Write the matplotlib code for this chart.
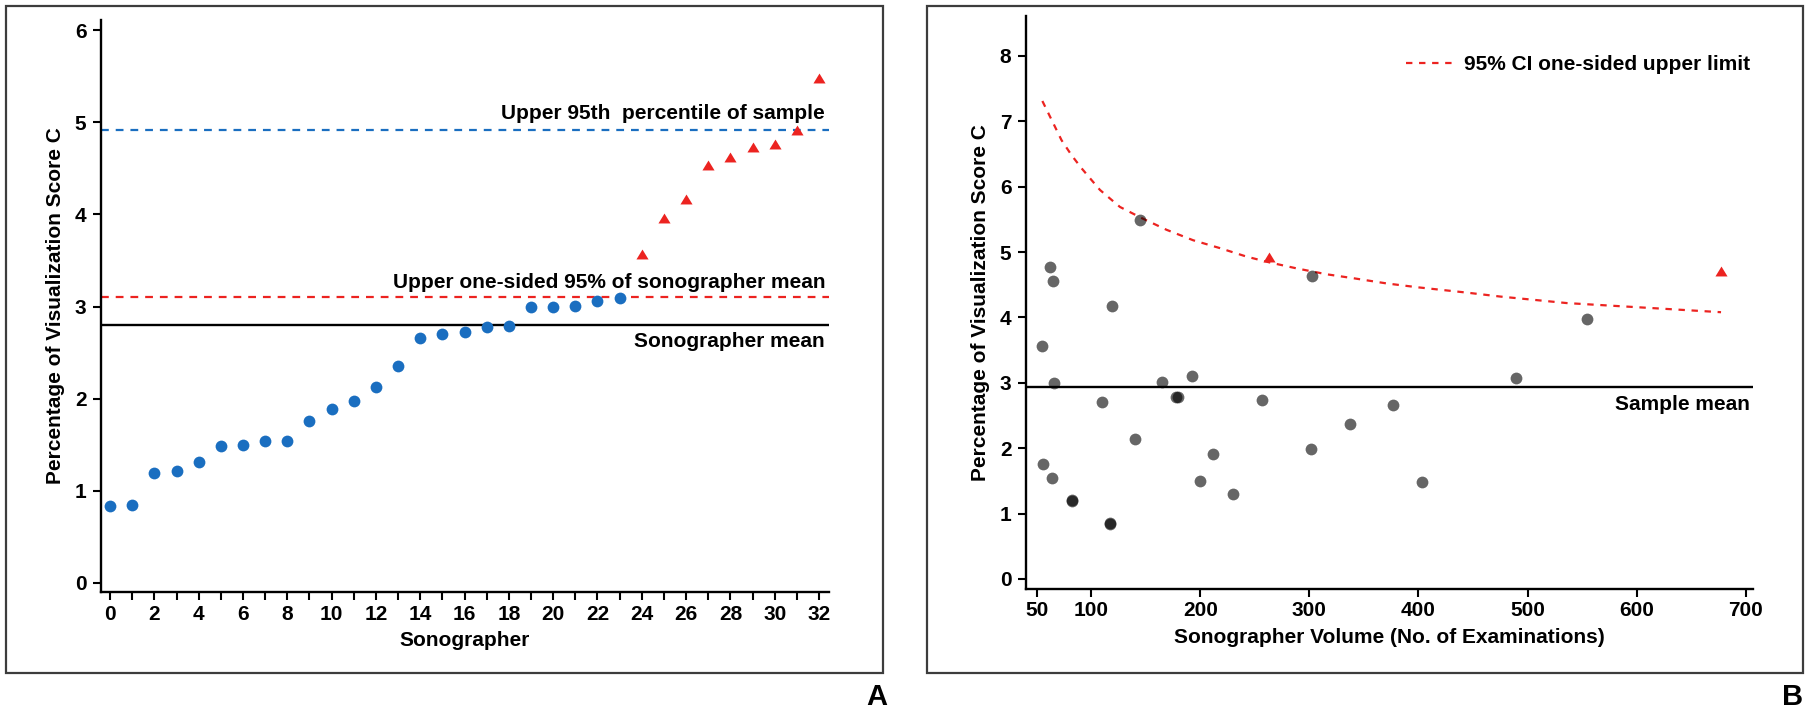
import matplotlib
matplotlib.use("Agg")
import matplotlib.pyplot as plt
from matplotlib.patches import Rectangle
from matplotlib.lines import Line2D
import numpy as np

plt.rcParams['font.family'] = ['Liberation Sans', 'DejaVu Sans']
plt.rcParams['font.weight'] = 'bold'
plt.rcParams['lines.scale_dashes'] = False

# ---------------- Panel A data ----------------
sono_blue_x = list(range(0, 24))
sono_blue_y = [0.84, 0.85, 1.19, 1.21, 1.31, 1.49, 1.50, 1.54, 1.54, 1.76,
               1.89, 1.98, 2.13, 2.36, 2.66, 2.70, 2.72, 2.78, 2.79, 2.99,
               2.99, 3.01, 3.06, 3.09]
sono_red_x = list(range(24, 33))
sono_red_y = [3.57, 3.96, 4.17, 4.54, 4.62, 4.73, 4.76, 4.92, 5.48]
upper_95th_percentile = 4.915
upper_onesided_mean = 3.10
sonographer_mean = 2.80
a_xticks = list(range(0, 33))
a_xticklabels = [str(i) if i % 2 == 0 else '' for i in a_xticks]
a_yticks = [0, 1, 2, 3, 4, 5, 6]

# ---------------- Panel B data ----------------
vol_gray = [55.3, 62.7, 64.8, 66.4, 56.3, 64.3, 82.8, 82.8, 110.3, 118.8,
            117.2, 117.2, 139.9, 145.2, 165.3, 178.0, 179.6, 192.8, 200.2, 211.3,
            229.8, 256.3, 302.3, 301.8, 337.2, 376.4, 403.3, 489.6, 554.6]
pct_gray = [3.57, 4.77, 4.55, 3.00, 1.76, 1.55, 1.19, 1.21, 2.71, 4.18,
            0.84, 0.85, 2.14, 5.49, 3.02, 2.79, 2.78, 3.10, 1.50, 1.91,
            1.30, 2.73, 4.63, 1.99, 2.37, 2.66, 1.49, 3.07, 3.98]
vol_red = [263.2, 677.4]
pct_red = [4.92, 4.71]
ci_vol = [55.3, 65.3, 72.9, 82.1, 91.3, 98.9, 108.1, 117.2, 126.4, 146.3,
          169.2, 193.6, 218.1, 242.5, 263.9, 288.4, 315.9, 340.3, 370.9, 399.9,
          444.2, 474.7, 505.3, 535.8, 566.4, 597.0, 627.5, 677.4]
ci_upper = [7.31, 6.97, 6.71, 6.48, 6.28, 6.13, 5.95, 5.82, 5.69, 5.52,
            5.34, 5.18, 5.06, 4.93, 4.84, 4.75, 4.66, 4.60, 4.52, 4.46,
            4.38, 4.32, 4.27, 4.22, 4.19, 4.16, 4.13, 4.08]
sample_mean = 2.94
b_xticks = [50, 100, 200, 300, 400, 500, 600, 700]
b_yticks = [0, 1, 2, 3, 4, 5, 6, 7, 8]

BLUE = '#1a6ec0'
RED = '#ec2320'
FS = 15
DASH_A = (5.6, 5.0)
DASH_B = (4.6, 4.8)

W, H = 1810, 711
fig = plt.figure(figsize=(W / 100, H / 100), dpi=100)

def fx(px):
    return px / W

def fy(py):
    return 1 - py / H

# panel frames
for (x0, x1) in [(6, 883), (927, 1803)]:
    fig.patches.append(Rectangle((fx(x0), fy(673)), fx(x1 - x0), (673 - 6) / H,
                                 transform=fig.transFigure, fill=False,
                                 edgecolor='#3c3c3c', linewidth=1.6, zorder=0))

tri = [(-1.0, -0.82), (1.0, -0.82), (0.0, 0.82)]

def style_axes(ax):
    for s in ['top', 'right']:
        ax.spines[s].set_visible(False)
    for s in ['left', 'bottom']:
        ax.spines[s].set_linewidth(1.7)
    ax.tick_params(axis='both', direction='out', width=1.5, labelsize=FS)
    ax.tick_params(axis='y', length=5.5, pad=5)
    ax.tick_params(axis='x', length=6.0, pad=3)
    for lab in ax.get_xticklabels() + ax.get_yticklabels():
        lab.set_fontweight('bold')

# ---------------- Panel A ----------------
axA = fig.add_axes([fx(101), fy(592), fx(829 - 101), (592 - 20) / H])
axA.set_xlim(-0.41, 32.45)
axA.set_ylim(-0.098, 6.11)
axA.axhline(upper_95th_percentile, color=BLUE, lw=1.6, dashes=DASH_A, zorder=1)
axA.axhline(upper_onesided_mean, color=RED, lw=1.6, dashes=DASH_A, zorder=1)
axA.axhline(sonographer_mean, color='black', lw=1.7, zorder=1)
axA.scatter(sono_blue_x, sono_blue_y, s=72, color=BLUE, linewidths=0, zorder=3)
axA.scatter(sono_red_x, sono_red_y, s=76, marker=tri, color=RED, linewidths=0, zorder=3)
axA.set_xticks(a_xticks)
axA.set_xticklabels(a_xticklabels)
axA.set_yticks(a_yticks)
style_axes(axA)
axA.text(32.27, 5.04, 'Upper 95th  percentile of sample', ha='right', va='baseline',
         fontsize=FS, fontweight='bold')
axA.text(32.27, 3.20, 'Upper one-sided 95% of sonographer mean', ha='right', va='baseline',
         fontsize=FS, fontweight='bold')
axA.text(32.27, 2.565, 'Sonographer mean', ha='right', va='baseline',
         fontsize=FS, fontweight='bold')
axA.set_xlabel('Sonographer', fontsize=FS, fontweight='bold')
axA.set_ylabel('Percentage of Visualization Score C', fontsize=FS, fontweight='bold')
axA.xaxis.set_label_coords(0.4993, -0.068)
axA.yaxis.set_label_coords(-0.0495, 0.5)

# ---------------- Panel B ----------------
axB = fig.add_axes([fx(1026), fy(589), fx(1753 - 1026), (589 - 16) / H])
axB.set_xlim(40.3, 706.7)
axB.set_ylim(-0.153, 8.61)
axB.axhline(sample_mean, color='black', lw=1.7, zorder=1)
axB.plot(ci_vol, ci_upper, color=RED, lw=1.6, dashes=DASH_B, zorder=2)
axB.scatter(vol_gray, pct_gray, s=72, color='black', alpha=0.6, linewidths=0, zorder=3)
axB.scatter(vol_red, pct_red, s=76, marker=tri, color=RED, linewidths=0, zorder=3)
axB.set_xticks(b_xticks)
axB.set_yticks(b_yticks)
style_axes(axB)
axB.text(704, 2.585, 'Sample mean', ha='right', va='baseline', fontsize=FS, fontweight='bold')
axB.set_xlabel('Sonographer Volume (No. of Examinations)', fontsize=FS, fontweight='bold')
axB.set_ylabel('Percentage of Visualization Score C', fontsize=FS, fontweight='bold')
axB.xaxis.set_label_coords(0.4993, -0.068)
axB.yaxis.set_label_coords(-0.0495, 0.5)
handle = Line2D([], [], color=RED, lw=1.6, dashes=DASH_B)
leg = axB.legend([handle], ['95% CI one-sided upper limit'], loc='center right',
                 bbox_to_anchor=(0.996, 0.9145), frameon=False, borderpad=0,
                 borderaxespad=0, handlelength=2.35, handletextpad=0.43,
                 prop={'size': FS, 'weight': 'bold'})

fig.text(fx(887), fy(705), 'A', ha='right', va='baseline', fontsize=21, fontweight='bold')
fig.text(fx(1803), fy(705), 'B', ha='right', va='baseline', fontsize=21, fontweight='bold')

fig.savefig('out.png', dpi=100)
